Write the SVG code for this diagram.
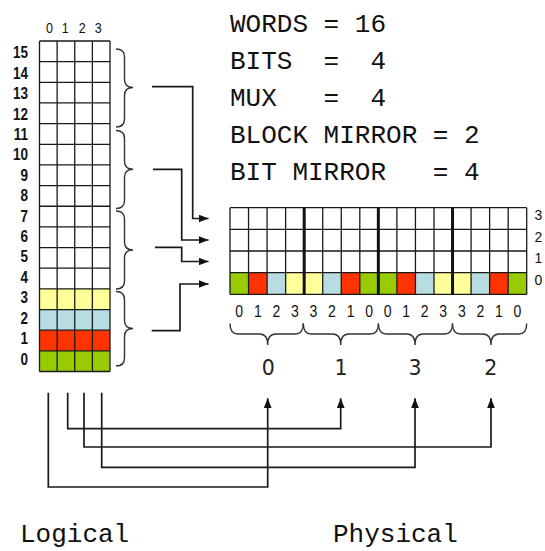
<svg xmlns="http://www.w3.org/2000/svg" width="545" height="551" viewBox="0 0 545 551">
  <style>
    .grid { fill: none; stroke: #1a1a1a; stroke-width: 1.3; }
    .thick { stroke: #111; stroke-width: 3; }
    .brace { fill: none; stroke: #333; stroke-width: 1.4; }
    .wire { fill: none; stroke: #1a1a1a; stroke-width: 1.7; }
    .mono { font-family: "Liberation Mono", "Courier New", monospace; font-size: 26px; fill: #111; white-space: pre; }
    .rowlbl { font-family: "Liberation Sans", Arial, sans-serif; font-size: 13.5px; font-weight: bold; fill: #111; text-anchor: end; }
    .collbl { font-family: "Liberation Sans", Arial, sans-serif; font-size: 12.5px; fill: #111; text-anchor: middle; }
    .bitlbl { font-family: "Liberation Sans", Arial, sans-serif; font-size: 14px; fill: #111; text-anchor: middle; }
    .sidelbl { font-family: "Liberation Sans", Arial, sans-serif; font-size: 14px; fill: #111; }
    .blk { font-family: "DejaVu Sans", Verdana, sans-serif; font-size: 20.5px; fill: #222; text-anchor: middle; }
    .g { fill: #99CC00; } .r { fill: #FF3300; } .b { fill: #B7DDE3; } .y { fill: #FFFF99; }
  </style>
  <defs>
    <marker id="arrow" viewBox="0 0 10 8" refX="10" refY="4" markerWidth="10" markerHeight="8" markerUnits="userSpaceOnUse" orient="auto">
      <path d="M0,0 L10,4 L0,8 z" fill="#111"/>
    </marker>
  </defs>
  <rect width="545" height="551" fill="#fff"/>

  <!-- Parameters -->
  <g id="params" xml:space="preserve">
    <text class="mono" x="230" y="31.7">WORDS = 16</text>
    <text class="mono" x="230" y="69">BITS  =  4</text>
    <text class="mono" x="230" y="106">MUX   =  4</text>
    <text class="mono" x="230" y="143">BLOCK MIRROR = 2</text>
    <text class="mono" x="230" y="180">BIT MIRROR   = 4</text>
  </g>

  <!-- Logical array: 16 words x 4 bits -->
  <g id="logical-array">
    <rect class="y" x="39.5" y="288.87" width="70.5" height="20.66"/>
    <rect class="b" x="39.5" y="309.53" width="70.5" height="20.66"/>
    <rect class="r" x="39.5" y="330.19" width="70.5" height="20.66"/>
    <rect class="g" x="39.5" y="350.84" width="70.5" height="20.66"/>
    <path class="grid" d="M39.5,41 H110 M39.5,61.66 H110 M39.5,82.31 H110 M39.5,102.97 H110 M39.5,123.62 H110 M39.5,144.28 H110 M39.5,164.94 H110 M39.5,185.59 H110 M39.5,206.25 H110 M39.5,226.91 H110 M39.5,247.56 H110 M39.5,268.22 H110 M39.5,288.87 H110 M39.5,309.53 H110 M39.5,330.19 H110 M39.5,350.84 H110 M39.5,371.5 H110 M39.5,41 V371.5 M57.13,41 V371.5 M74.75,41 V371.5 M92.38,41 V371.5 M110,41 V371.5"/>
    <g id="bit-columns">
      <text class="collbl" transform="translate(49.5 33.3) scale(1 1.22)">0</text>
      <text class="collbl" transform="translate(65.3 33.3) scale(1 1.22)">1</text>
      <text class="collbl" transform="translate(82.3 33.3) scale(1 1.22)">2</text>
      <text class="collbl" transform="translate(98.3 33.3) scale(1 1.22)">3</text>
    </g>
    <g id="word-rows">
      <text class="rowlbl" transform="translate(28 58.3) scale(1 1.22)">15</text>
      <text class="rowlbl" transform="translate(28 78.7) scale(1 1.22)">14</text>
      <text class="rowlbl" transform="translate(28 99.1) scale(1 1.22)">13</text>
      <text class="rowlbl" transform="translate(28 119.6) scale(1 1.22)">12</text>
      <text class="rowlbl" transform="translate(28 140.0) scale(1 1.22)">11</text>
      <text class="rowlbl" transform="translate(28 160.4) scale(1 1.22)">10</text>
      <text class="rowlbl" transform="translate(28 180.8) scale(1 1.22)">9</text>
      <text class="rowlbl" transform="translate(28 201.2) scale(1 1.22)">8</text>
      <text class="rowlbl" transform="translate(28 221.6) scale(1 1.22)">7</text>
      <text class="rowlbl" transform="translate(28 242.0) scale(1 1.22)">6</text>
      <text class="rowlbl" transform="translate(28 262.4) scale(1 1.22)">5</text>
      <text class="rowlbl" transform="translate(28 282.8) scale(1 1.22)">4</text>
      <text class="rowlbl" transform="translate(28 303.3) scale(1 1.22)">3</text>
      <text class="rowlbl" transform="translate(28 323.7) scale(1 1.22)">2</text>
      <text class="rowlbl" transform="translate(28 344.1) scale(1 1.22)">1</text>
      <text class="rowlbl" transform="translate(28 364.5) scale(1 1.22)">0</text>
    </g>
  </g>

  <!-- Word groups of four -->
  <g id="word-groups">
    <path class="brace" d="M116,49 Q124.5,49 124.5,57 L124.5,79.5 Q124.5,87.5 133,87.5 Q124.5,87.5 124.5,95.5 L124.5,119 Q124.5,127 116,127"/>
    <path class="brace" d="M116,130.5 Q124.5,130.5 124.5,138.5 L124.5,161.3 Q124.5,169.3 133,169.3 Q124.5,169.3 124.5,177.3 L124.5,200.5 Q124.5,208.5 116,208.5"/>
    <path class="brace" d="M116,211 Q124.5,211 124.5,219 L124.5,242 Q124.5,250 133,250 Q124.5,250 124.5,258 L124.5,281 Q124.5,289 116,289"/>
    <path class="brace" d="M116,291.5 Q124.5,291.5 124.5,299.5 L124.5,320.5 Q124.5,328.5 133,328.5 Q124.5,328.5 124.5,336.5 L124.5,358 Q124.5,366 116,366"/>
  </g>

  <!-- Physical array: 4 rows x 16 columns -->
  <g id="physical-array">
    <rect class="g" x="230" y="272.65" width="18.54" height="21.65"/>
    <rect class="r" x="248.54" y="272.65" width="18.55" height="21.65"/>
    <rect class="b" x="267.09" y="272.65" width="18.54" height="21.65"/>
    <rect class="y" x="285.63" y="272.65" width="18.55" height="21.65"/>
    <rect class="y" x="304.18" y="272.65" width="18.54" height="21.65"/>
    <rect class="b" x="322.72" y="272.65" width="18.55" height="21.65"/>
    <rect class="r" x="341.27" y="272.65" width="18.54" height="21.65"/>
    <rect class="g" x="359.81" y="272.65" width="18.54" height="21.65"/>
    <rect class="g" x="378.35" y="272.65" width="18.55" height="21.65"/>
    <rect class="r" x="396.9" y="272.65" width="18.54" height="21.65"/>
    <rect class="b" x="415.44" y="272.65" width="18.55" height="21.65"/>
    <rect class="y" x="433.99" y="272.65" width="18.54" height="21.65"/>
    <rect class="y" x="452.53" y="272.65" width="18.55" height="21.65"/>
    <rect class="b" x="471.08" y="272.65" width="18.54" height="21.65"/>
    <rect class="r" x="489.62" y="272.65" width="18.55" height="21.65"/>
    <rect class="g" x="508.17" y="272.65" width="18.53" height="21.65"/>
    <path class="grid" d="M230,207.7 H526.7 M230,229.35 H526.7 M230,251 H526.7 M230,272.65 H526.7 M230,294.3 H526.7 M230,207.7 V294.3 M248.54,207.7 V294.3 M267.09,207.7 V294.3 M285.63,207.7 V294.3 M322.72,207.7 V294.3 M341.27,207.7 V294.3 M359.81,207.7 V294.3 M396.9,207.7 V294.3 M415.44,207.7 V294.3 M433.99,207.7 V294.3 M471.08,207.7 V294.3 M489.62,207.7 V294.3 M508.17,207.7 V294.3 M526.7,207.7 V294.3"/>
    <path class="thick" d="M304.18,207.7 V294.3 M378.35,207.7 V294.3 M452.53,207.7 V294.3"/>
    <g id="row-labels">
      <text class="sidelbl" x="534.5" y="220">3</text>
      <text class="sidelbl" x="534.5" y="241.7">2</text>
      <text class="sidelbl" x="534.5" y="263.3">1</text>
      <text class="sidelbl" x="534.5" y="285">0</text>
    </g>
    <g id="bit-labels" transform="translate(0 316.7) scale(1 1.17)">
      <text class="bitlbl" x="239.27" y="0">0</text>
      <text class="bitlbl" x="257.81" y="0">1</text>
      <text class="bitlbl" x="276.36" y="0">2</text>
      <text class="bitlbl" x="294.9" y="0">3</text>
      <text class="bitlbl" x="313.45" y="0">3</text>
      <text class="bitlbl" x="332" y="0">2</text>
      <text class="bitlbl" x="350.54" y="0">1</text>
      <text class="bitlbl" x="369.08" y="0">0</text>
      <text class="bitlbl" x="387.63" y="0">0</text>
      <text class="bitlbl" x="406.17" y="0">1</text>
      <text class="bitlbl" x="424.72" y="0">2</text>
      <text class="bitlbl" x="443.26" y="0">3</text>
      <text class="bitlbl" x="461.8" y="0">3</text>
      <text class="bitlbl" x="480.35" y="0">2</text>
      <text class="bitlbl" x="498.9" y="0">1</text>
      <text class="bitlbl" x="517.44" y="0">0</text>
    </g>
  </g>

  <!-- Column blocks -->
  <g id="column-blocks">
    <path class="brace" d="M230,323.5 Q230,334 238,334 L259.7,334 Q267.7,334 267.7,345 Q267.7,334 275.7,334 L295.3,334 Q303.3,334 303.3,323.5"/>
    <path class="brace" d="M303.3,323.5 Q303.3,334 311.3,334 L332.7,334 Q340.7,334 340.7,345 Q340.7,334 348.7,334 L370.4,334 Q378.4,334 378.4,323.5"/>
    <path class="brace" d="M378.4,323.5 Q378.4,334 386.4,334 L407,334 Q415,334 415,345 Q415,334 423,334 L444.5,334 Q452.5,334 452.5,323.5"/>
    <path class="brace" d="M452.5,323.5 Q452.5,334 460.5,334 L483,334 Q491,334 491,345 Q491,334 499,334 L518.7,334 Q526.7,334 526.7,323.5"/>
    <text class="blk" x="268.3" y="375">0</text>
    <text class="blk" x="341" y="375">1</text>
    <text class="blk" x="415" y="375">3</text>
    <text class="blk" x="490.8" y="375">2</text>
  </g>

  <!-- Connectors -->
  <g id="connectors">
    <path class="wire" d="M152,86.7 H192.7 V218.5 H208.5" marker-end="url(#arrow)"/>
    <path class="wire" d="M153,169.3 H181.7 V240 H208.5" marker-end="url(#arrow)"/>
    <path class="wire" d="M155,247.3 H181.7 V261.5 H208.5" marker-end="url(#arrow)"/>
    <path class="wire" d="M151.7,330.7 H180 V284 H208.5" marker-end="url(#arrow)"/>
    <path class="wire" d="M48.3,392.7 V487 H267.7 V398.3" marker-end="url(#arrow)"/>
    <path class="wire" d="M67.7,392.7 V428.7 H340.7 V398.3" marker-end="url(#arrow)"/>
    <path class="wire" d="M84,392.7 V447 H491 V398.3" marker-end="url(#arrow)"/>
    <path class="wire" d="M101.7,392.7 V467.3 H415 V398.3" marker-end="url(#arrow)"/>
  </g>

  <!-- Captions -->
  <g id="captions">
    <text class="mono" x="20" y="542">Logical</text>
    <text class="mono" x="333" y="542">Physical</text>
  </g>
</svg>
